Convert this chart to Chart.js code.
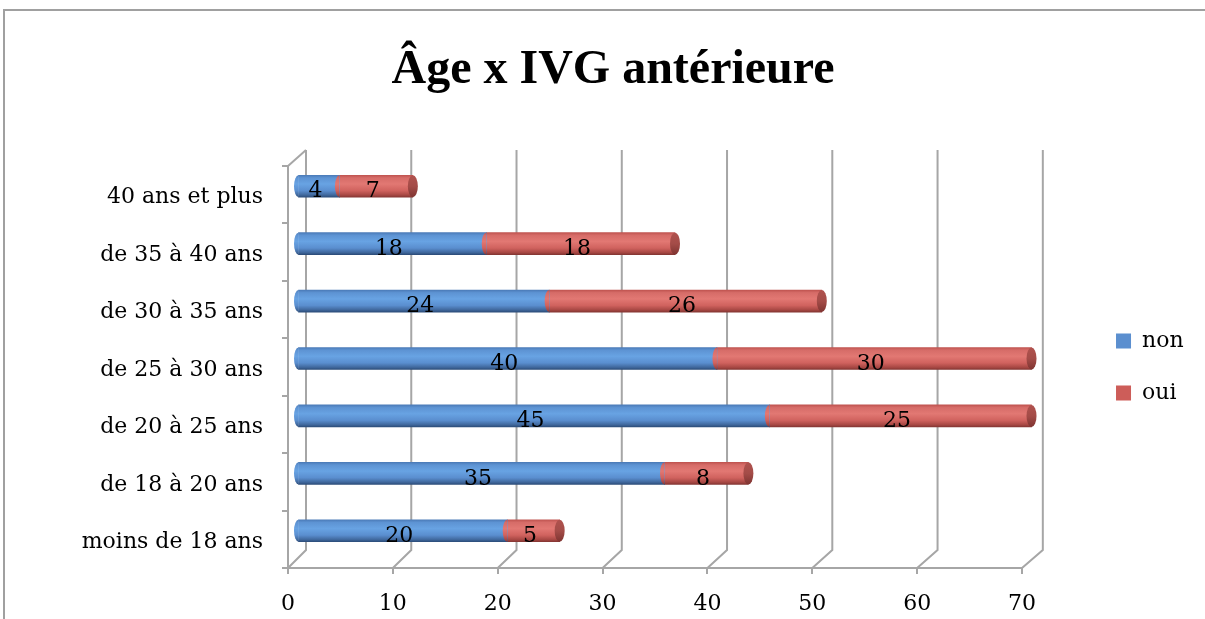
<!DOCTYPE html>
<html>
<head>
<meta charset="utf-8">
<script src="https://cdn.jsdelivr.net/npm/chart.js@4.4.1/dist/chart.umd.min.js"></script>
<style>
html,body{margin:0;padding:0;background:#fff;overflow:hidden;width:1205px;height:619px;position:relative;}
.fl{position:absolute;background:#a0a0a0;}
#ftop{left:3px;top:9px;width:1300px;height:2px;}
#fleft{left:3px;top:9px;width:2px;height:700px;}
#wrap{position:absolute;left:0;top:0;width:1266px;height:619px;}
</style>
</head>
<body>
<div class="fl" id="ftop"></div>
<div class="fl" id="fleft"></div>
<div id="wrap"><canvas id="c" width="1266" height="619" style="width:1266px;height:619px"></canvas></div>
<script>
// ---- data ----
const categories = ['moins de 18 ans', 'de 18 à 20 ans', 'de 20 à 25 ans', 'de 25 à 30 ans', 'de 30 à 35 ans', 'de 35 à 40 ans', '40 ans et plus'];
const seriesNames = ['non', 'oui'];
const nonValues = [20, 35, 45, 40, 24, 18, 4];
const ouiValues = [5, 8, 25, 30, 26, 18, 7];
const xTicks = [0, 10, 20, 30, 40, 50, 60, 70];
const chartTitle = 'Âge x IVG antérieure';

// ---- style ----
const GRID = '#a6a6a6';
const LABEL_FONT = {family: 'DejaVu Serif', size: 22};
const BAR_T = 22;
const DX = 9.5, DY = -8.5;
const PAD_L = 32.4, PAD_R = 72.4;
const blueStops = [[0, '#4b7bb8'], [0.12, '#5d93d3'], [0.4, '#68a3e3'], [0.7, '#5a8ecf'], [0.9, '#40689d'], [1, '#2c4d7a']];
const redStops = [[0, '#c05450'], [0.12, '#d66c68'], [0.4, '#e27873'], [0.7, '#d0625e'], [0.9, '#a84844'], [1, '#853633']];
const legendColors = ['#5b8fcf', '#cd5d59'];

function makeGrad(ctx, yc, stops) {
  const g = ctx.createLinearGradient(0, yc - BAR_T / 2, 0, yc + BAR_T / 2);
  stops.forEach(s => g.addColorStop(s[0], s[1]));
  return g;
}
function scriptGrad(stops) {
  return (c) => {
    const ys = c.chart.scales && c.chart.scales.y;
    if (!ys || !c.chart.chartArea || c.dataIndex === undefined) return stops[2][1];
    const yc = ys.getPixelForValue(c.dataIndex);
    if (!isFinite(yc)) return stops[2][1];
    return makeGrad(c.chart.ctx, yc, stops);
  };
}

const depthPlugin = {
  id: 'depth',
  beforeDatasetsDraw(chart) {
    const ctx = chart.ctx, xs = chart.scales.x, a = chart.chartArea;
    const back = v => xs.getPixelForValue(v) + 18 + v * 0.04;
    ctx.save();
    ctx.strokeStyle = GRID;
    ctx.lineWidth = 2;
    xTicks.forEach(v => {
      const xf = xs.getPixelForValue(v), xb = back(v);
      ctx.beginPath();
      ctx.moveTo(xf, a.bottom);
      ctx.lineTo(xb, a.bottom - 18);
      ctx.lineTo(xb, a.top - 16);
      ctx.stroke();
    });
    ctx.beginPath();
    ctx.moveTo(a.left, a.top);
    ctx.lineTo(back(0), a.top - 16);
    ctx.stroke();
    ctx.restore();
    ctx.save();
    ctx.translate(DX, DY);
  },
  afterDatasetsDraw(chart) {
    const ctx = chart.ctx;
    const m0 = chart.getDatasetMeta(0), m1 = chart.getDatasetMeta(1);
    const rx = 4.5, ry = BAR_T / 2;
    const halfLeft = (x, y, stops) => {
      ctx.beginPath();
      ctx.ellipse(x, y, rx, ry, 0, Math.PI / 2, Math.PI * 3 / 2);
      ctx.closePath();
      ctx.fillStyle = makeGrad(ctx, y, stops);
      ctx.fill();
    };
    m0.data.forEach(el => { const p = el.getProps(['x', 'y', 'base'], true); halfLeft(p.base, p.y, blueStops); });
    m1.data.forEach(el => { const p = el.getProps(['x', 'y', 'base'], true); halfLeft(p.base, p.y, redStops); });
    m1.data.forEach(el => {
      const p = el.getProps(['x', 'y', 'base'], true);
      ctx.beginPath();
      ctx.ellipse(p.x, p.y, rx + 0.5, ry, 0, 0, Math.PI * 2);
      const g = ctx.createLinearGradient(0, p.y - ry, 0, p.y + ry);
      g.addColorStop(0, '#b0524e'); g.addColorStop(0.5, '#a44c48'); g.addColorStop(1, '#7f3431');
      ctx.fillStyle = g;
      ctx.fill();
    });
    ctx.fillStyle = '#000';
    ctx.font = LABEL_FONT.size + 'px "' + LABEL_FONT.family + '"';
    ctx.textAlign = 'center';
    ctx.textBaseline = 'middle';
    [m0, m1].forEach((m, di) => {
      const vals = di === 0 ? nonValues : ouiValues;
      m.data.forEach((el, i) => {
        const p = el.getProps(['x', 'y', 'base'], true);
        ctx.fillText(String(vals[i]), (p.x + p.base) / 2 - 3.5, p.y + 5.5);
      });
    });
    ctx.restore();
  }
};

Chart.defaults.font.family = 'DejaVu Serif';
Chart.defaults.color = '#000';

new Chart(document.getElementById('c'), {
  type: 'bar',
  data: {
    labels: categories,
    datasets: [
      {label: seriesNames[0], data: nonValues, backgroundColor: scriptGrad(blueStops), borderWidth: 0, barThickness: BAR_T, clip: false},
      {label: seriesNames[1], data: ouiValues, backgroundColor: scriptGrad(redStops), borderWidth: 0, barThickness: BAR_T, clip: false}
    ]
  },
  options: {
    indexAxis: 'y',
    responsive: false,
    animation: false,
    devicePixelRatio: 1,
    layout: {padding: {left: PAD_L, right: PAD_R, top: 0, bottom: 0}},
    scales: {
      x: {
        type: 'linear', position: 'bottom', stacked: true, min: 0, max: 70,
        afterBuildTicks: s => { s.ticks = xTicks.map(v => ({value: v})); },
        ticks: {font: LABEL_FONT, color: '#000', padding: 17},
        grid: {drawOnChartArea: false, drawTicks: true, tickLength: 6, color: GRID, lineWidth: 2},
        border: {display: true, color: GRID, width: 2},
        afterFit: s => { s.height = 51; }
      },
      y: {
        type: 'category', position: 'left', stacked: true, reverse: true, offset: true,
        ticks: {font: LABEL_FONT, color: '#000', padding: 19, labelOffset: 3},
        grid: {offset: true, drawOnChartArea: false, drawTicks: true, tickLength: 6, color: GRID, lineWidth: 2},
        border: {display: true, color: GRID, width: 2},
        afterFit: s => { s.width = 288 - PAD_L; }
      },
      yGap: {
        type: 'category', position: 'right', labels: categories, display: true,
        ticks: {display: false}, grid: {display: false}, border: {display: false},
        afterFit: s => { s.width = 64; }
      }
    },
    plugins: {
      title: {
        display: true, text: chartTitle, color: '#000',
        font: {family: 'Liberation Serif', size: 48, weight: 'bold', lineHeight: 1.2},
        padding: {top: 41.6, bottom: 66.8}
      },
      legend: {
        position: 'right',
        fullSize: false,
        labels: {
          boxWidth: 15, boxHeight: 15, padding: 30, font: LABEL_FONT, color: '#000',
          generateLabels: () => seriesNames.map((n, i) => ({text: n, fillStyle: legendColors[i], strokeStyle: legendColors[i], lineWidth: 0, datasetIndex: i, hidden: false}))
        }
      },
      tooltip: {enabled: false}
    }
  },
  plugins: [depthPlugin]
});
</script>
</body>
</html>
